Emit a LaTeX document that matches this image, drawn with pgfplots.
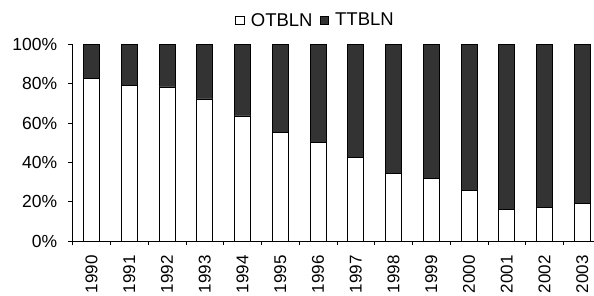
\documentclass[border=0pt]{standalone}
\usepackage{pgfplots}
\pgfplotsset{compat=1.18}
\usepackage{fontspec}
\setmainfont{Liberation Sans}
\definecolor{dark}{RGB}{51,51,51}
\begin{document}
\begin{tikzpicture}
\useasboundingbox (-72.7pt,-54pt) rectangle (521.3pt,241pt);
\begin{axis}[
  at={(0,0)}, anchor=south west,
  scale only axis, width=521.3pt, height=196.7pt,
  ybar stacked, bar width=16pt,
  xmin=-0.5, xmax=13.31, ymin=0, ymax=100,
  axis x line*=bottom, axis y line*=left,
  axis line style={-, line width=0.8pt, black},
  tick align=outside, major tick length=4.4pt,
  tick style={black, line width=0.8pt},
  /pgf/number format/assume math mode=true,
  ytick={0,20,...,100},
  yticklabel={\pgfmathprintnumber{\tick}\%},
  yticklabel style={font=\fontsize{17.5}{20}\selectfont, anchor=east, inner sep=0pt, xshift=-11pt},
  xtick={0,...,13},
  xticklabels={1990,1991,1992,1993,1994,1995,1996,1997,1998,1999,2000,2001,2002,2003},
  xtick style={draw=none},
  xticklabel style={font=\fontsize{17}{20}\selectfont, rotate=90, anchor=east, inner sep=0pt, xshift=-9.6pt},
  extra x ticks={-0.5,0.5,...,12.5},
  extra x tick labels={},
  extra x tick style={xtick style={draw=black, line width=0.8pt}},
  legend style={at={(0.4658,1.122)}, anchor=center, draw=none, fill=none,
    legend columns=2, font=\fontsize{18.5}{21}\selectfont,
    /tikz/every odd column/.append style={column sep=4.5pt},
    /tikz/every even column/.append style={column sep=5pt},
    inner sep=0pt},
  legend image code/.code={\draw[#1, line width=0.8pt] (0pt,-4.15pt) rectangle (8.3pt,4.15pt);},
]
\addplot[draw=black, line width=0.8pt, fill=white] coordinates {
(0,82.6) (1,79.3) (2,78.3) (3,72.2) (4,63.6) (5,55.0) (6,50.1) (7,42.3) (8,34.4) (9,31.8) (10,25.9) (11,16.2) (12,17.1) (13,19.1)};
\addplot[draw=black, line width=0.8pt, fill=dark] coordinates {
(0,17.4) (1,20.7) (2,21.7) (3,27.8) (4,36.4) (5,45.0) (6,49.9) (7,57.7) (8,65.6) (9,68.2) (10,74.1) (11,83.8) (12,82.9) (13,80.9)};
\legend{OTBLN,TTBLN}
\end{axis}
\end{tikzpicture}
\end{document}
